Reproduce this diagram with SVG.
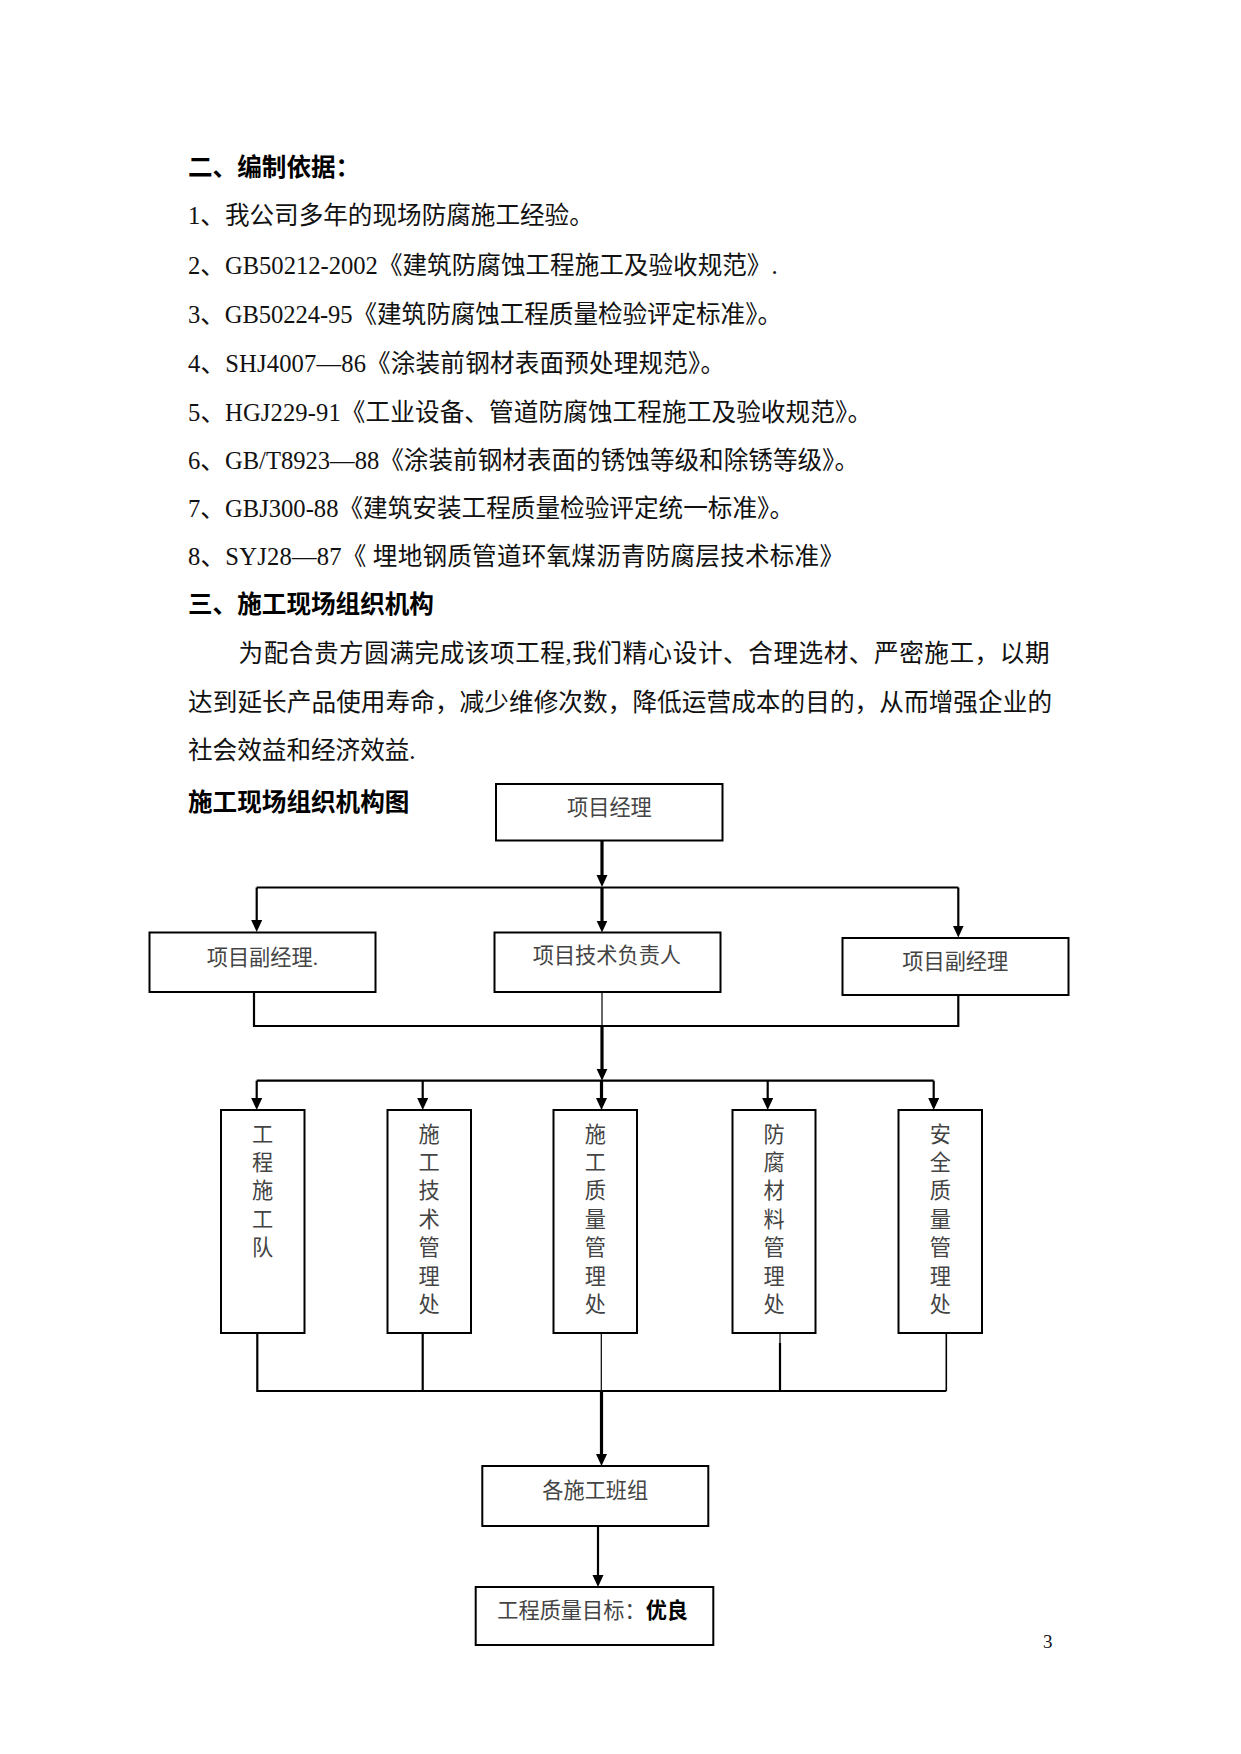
<svg xmlns="http://www.w3.org/2000/svg" width="1241" height="1754" viewBox="0 0 1241 1754">
<style>
.body{font-family:"Liberation Serif","Noto Sans CJK SC",serif;font-size:24.6px;fill:#111}
.head{font-family:"Noto Sans CJK SC",sans-serif;font-size:24.6px;font-weight:bold;fill:#000}
.box{fill:#fff;stroke:#000;stroke-width:2}
.lbl{font-family:"Liberation Serif","Noto Sans CJK SC",serif;font-size:21.2px;fill:#444}
.vl{font-family:"Noto Sans CJK SC",sans-serif;font-size:21.2px;fill:#444;text-anchor:middle}
.c1{stroke-width:1.2}
.c15{stroke-width:1.6}
.c2{stroke-width:2.2}
.c3{stroke-width:3.2}
.a{marker-end:url(#arr)}
.pg{font-family:"Liberation Serif",serif;font-size:19px;fill:#111}
</style>
<defs>
<marker id="arr" markerUnits="userSpaceOnUse" markerWidth="12" markerHeight="12" refX="6" refY="5.5" orient="auto">
<path d="M0,0 L12,5.5 L0,11 z" fill="#000"/>
</marker>
</defs>
<rect width="1241" height="1754" fill="#fff"/>

<text class="head" x="188" y="176">二、编制依据：</text>
<text class="body" x="188" y="224.3">1、我公司多年的现场防腐施工经验。</text>
<text class="body" x="188" y="274">2、GB50212-2002《建筑防腐蚀工程施工及验收规范》.</text>
<text class="body" x="188" y="322.6" textLength="594" lengthAdjust="spacing">3、GB50224-95《建筑防腐蚀工程质量检验评定标准》。</text>
<text class="body" x="188" y="372" textLength="537" lengthAdjust="spacing">4、SHJ4007—86《涂装前钢材表面预处理规范》。</text>
<text class="body" x="188" y="421" textLength="684" lengthAdjust="spacing">5、HGJ229-91《工业设备、管道防腐蚀工程施工及验收规范》。</text>
<text class="body" x="188" y="469" textLength="671" lengthAdjust="spacing">6、GB/T8923—88《涂装前钢材表面的锈蚀等级和除锈等级》。</text>
<text class="body" x="188" y="517" textLength="606" lengthAdjust="spacing">7、GBJ300-88《建筑安装工程质量检验评定统一标准》。</text>
<text class="body" x="188" y="565.3" textLength="656" lengthAdjust="spacing">8、SYJ28—87《 埋地钢质管道环氧煤沥青防腐层技术标准》</text>
<text class="head" x="188" y="613.3">三、施工现场组织机构</text>
<text class="body" x="238.5" y="662" textLength="811" lengthAdjust="spacing">为配合贵方圆满完成该项工程,我们精心设计、合理选材、严密施工，以期</text>
<text class="body" x="188" y="711" textLength="864" lengthAdjust="spacing">达到延长产品使用寿命，减少维修次数，降低运营成本的目的，从而增强企业的</text>
<text class="body" x="188" y="759.3">社会效益和经济效益.</text>
<text class="head" x="188" y="811">施工现场组织机构图</text>

<g id="connectors" fill="none" stroke="#000">
<path class="c3 a" d="M602,841 V881"/>
<path class="c2" d="M256.7,887.5 H958.3"/>
<path class="c2 a" d="M256.7,887.5 V926"/>
<path class="c3 a" d="M602,887 V926.5"/>
<path class="c2 a" d="M958.3,887.5 V931.5"/>
<path class="c2" d="M254,992 V1026 H958.3 V995"/>
<path class="c1" d="M602,992 V1026"/>
<path class="c3 a" d="M602,1026 V1074.7"/>
<path class="c2" d="M256.7,1080.7 H933.7"/>
<path class="c2 a" d="M256.7,1080.7 V1104"/>
<path class="c2 a" d="M422.7,1080.7 V1104"/>
<path class="c3 a" d="M601.5,1080.7 V1104"/>
<path class="c2 a" d="M767.7,1080.7 V1104"/>
<path class="c2 a" d="M933.7,1080.7 V1104"/>
<path class="c2" d="M257.3,1333 V1391 H946.3"/>
<path class="c2" d="M422.7,1333 V1391"/>
<path class="c1" d="M601.3,1333 V1391"/>
<path class="c1" d="M780,1333 V1343"/>
<path class="c2" d="M780,1343 V1391"/>
<path class="c15" d="M946.3,1333 V1391"/>
<path class="c3 a" d="M601.5,1391 V1460"/>
<path class="c2 a" d="M598,1526 V1581"/>
</g>

<g id="n-pm">
<rect class="box" x="496" y="784" width="226.5" height="56.5"/>
<text class="lbl" x="567" y="814.7">项目经理</text>
</g>
<g id="n-dpm-left">
<rect class="box" x="149.5" y="932.5" width="226" height="59.5"/>
<text class="lbl" x="206.7" y="965">项目副经理.</text>
</g>
<g id="n-tech">
<rect class="box" x="494.5" y="932.5" width="226" height="59.5"/>
<text class="lbl" x="532.7" y="963">项目技术负责人</text>
</g>
<g id="n-dpm-right">
<rect class="box" x="842.5" y="938" width="226" height="57"/>
<text class="lbl" x="902.3" y="968.7">项目副经理</text>
</g>

<g id="n-team">
<rect class="box" x="221" y="1110" width="83.5" height="223"/>
<text class="vl"><tspan x="262.7" y="1141.6">工</tspan><tspan x="262.7" dy="28.4">程</tspan><tspan x="262.7" dy="28.4">施</tspan><tspan x="262.7" dy="28.4">工</tspan><tspan x="262.7" dy="28.4">队</tspan></text>
</g>
<g id="n-techdept">
<rect class="box" x="387.5" y="1110" width="83.5" height="223"/>
<text class="vl"><tspan x="429.2" y="1141.6">施</tspan><tspan x="429.2" dy="28.4">工</tspan><tspan x="429.2" dy="28.4">技</tspan><tspan x="429.2" dy="28.4">术</tspan><tspan x="429.2" dy="28.4">管</tspan><tspan x="429.2" dy="28.4">理</tspan><tspan x="429.2" dy="28.4">处</tspan></text>
</g>
<g id="n-qualdept">
<rect class="box" x="553.5" y="1110" width="83.5" height="223"/>
<text class="vl"><tspan x="595.3" y="1141.6">施</tspan><tspan x="595.3" dy="28.4">工</tspan><tspan x="595.3" dy="28.4">质</tspan><tspan x="595.3" dy="28.4">量</tspan><tspan x="595.3" dy="28.4">管</tspan><tspan x="595.3" dy="28.4">理</tspan><tspan x="595.3" dy="28.4">处</tspan></text>
</g>
<g id="n-matdept">
<rect class="box" x="732.5" y="1110" width="83" height="223"/>
<text class="vl"><tspan x="774" y="1141.6">防</tspan><tspan x="774" dy="28.4">腐</tspan><tspan x="774" dy="28.4">材</tspan><tspan x="774" dy="28.4">料</tspan><tspan x="774" dy="28.4">管</tspan><tspan x="774" dy="28.4">理</tspan><tspan x="774" dy="28.4">处</tspan></text>
</g>
<g id="n-safedept">
<rect class="box" x="898.5" y="1110" width="83.5" height="223"/>
<text class="vl"><tspan x="940.3" y="1141.6">安</tspan><tspan x="940.3" dy="28.4">全</tspan><tspan x="940.3" dy="28.4">质</tspan><tspan x="940.3" dy="28.4">量</tspan><tspan x="940.3" dy="28.4">管</tspan><tspan x="940.3" dy="28.4">理</tspan><tspan x="940.3" dy="28.4">处</tspan></text>
</g>

<g id="n-crews">
<rect class="box" x="482.3" y="1466" width="226" height="60"/>
<text class="lbl" x="542.3" y="1497.5">各施工班组</text>
</g>
<g id="n-goal">
<rect class="box" x="475.7" y="1587" width="237.6" height="58"/>
<text class="lbl" x="497.3" y="1618">工程质量目标：<tspan font-weight="bold" fill="#000">优良</tspan></text>
</g>

<text class="pg" x="1043" y="1648">3</text>
</svg>
